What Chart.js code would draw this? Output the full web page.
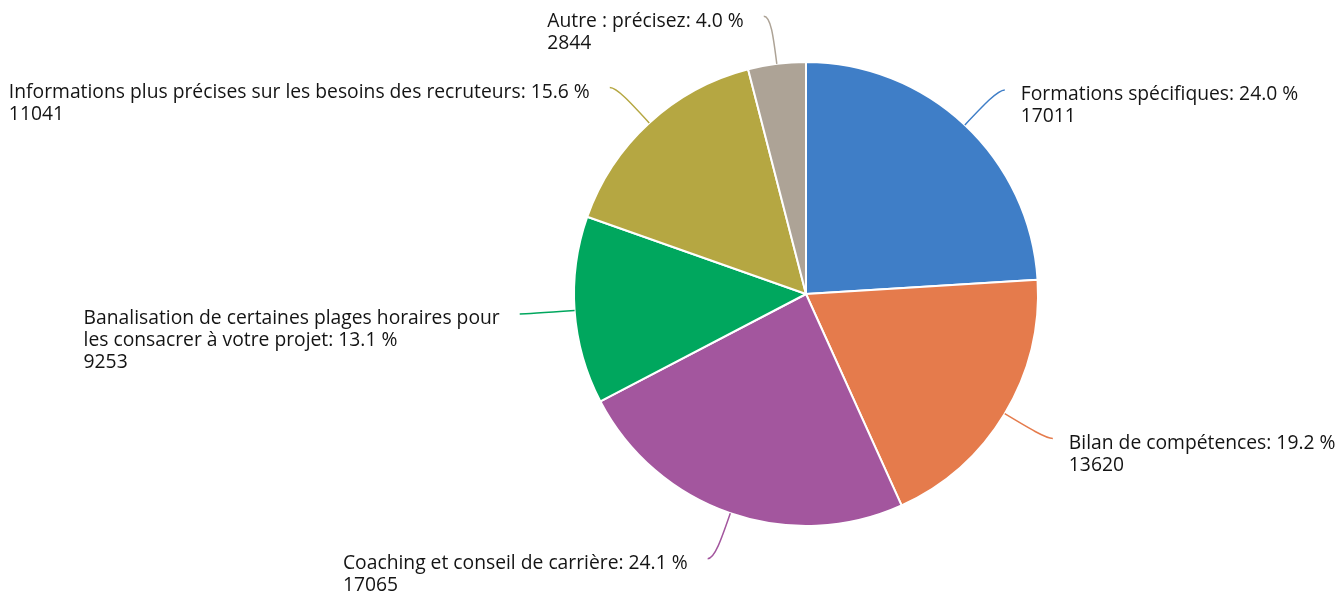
<!DOCTYPE html>
<html lang="fr">
<head>
<meta charset="utf-8">
<script src="https://cdn.jsdelivr.net/npm/chart.js@4"></script>
<style>
  html, body { margin: 0; padding: 0; background: #fff; }
  #wrap { width: 1343px; height: 593px; }
</style>
</head>
<body>
<div id="wrap"><canvas id="chart" width="1343" height="593"></canvas></div>
<script>
// categories, clockwise from 12 o'clock
const categories = [
    'Formations spécifiques',
    'Bilan de compétences',
    'Coaching et conseil de carrière',
    ['Banalisation de certaines plages horaires pour', 'les consacrer à votre projet'],
    'Informations plus précises sur les besoins des recruteurs',
    'Autre : précisez'
];
const counts = [17011, 13620, 17065, 9253, 11041, 2844];
const sliceColors = ['#3f7ec7', '#e57b4c', '#a3569e', '#00a75e', '#b5a742', '#ada396'];

const total = counts.reduce((a, b) => a + b, 0);

// leader lines + labels drawn after the arcs
const calloutPlugin = {
    id: 'callouts',
    afterDatasetsDraw(chart) {
        const ctx = chart.ctx;
        const meta = chart.getDatasetMeta(0);
        const lineH = 22;
        ctx.save();
        ctx.font = '19.3px "Open Sans", "Noto Sans", sans-serif';
        ctx.textBaseline = 'middle';
        ctx.textAlign = 'left';

        meta.data.forEach((arc, i) => {
            const mid = (arc.startAngle + arc.endAngle) / 2;
            const r = arc.outerRadius;
            const cos = Math.cos(mid), sin = Math.sin(mid);
            const side = cos >= 0 ? 1 : -1;

            // radial from the rim, then bend into a short horizontal tail
            const x0 = arc.x + cos * r, y0 = arc.y + sin * r;
            const c1x = arc.x + cos * (r + 28), c1y = arc.y + sin * (r + 28);
            const ex = arc.x + cos * (r + 48), ey = arc.y + sin * (r + 48);
            const x2 = ex + side * 7, y2 = ey;

            ctx.strokeStyle = sliceColors[i];
            ctx.lineWidth = 1.5;
            ctx.beginPath();
            ctx.moveTo(x0, y0);
            ctx.bezierCurveTo(c1x, c1y, ex, ey, x2, y2);
            ctx.stroke();

            // text lines
            const name = Array.isArray(categories[i]) ? categories[i].slice() : [categories[i]];
            const pct = (counts[i] / total * 100).toFixed(1);
            name[name.length - 1] += ': ' + pct + ' %';
            const lines = name.concat([String(counts[i])]);
            const blockW = Math.max(...lines.map(l => ctx.measureText(l).width));

            const tx = side > 0 ? x2 + 16 : x2 - 20 - blockW;
            const ty = y2 + 5;
            ctx.fillStyle = '#141414';
            lines.forEach((l, k) => ctx.fillText(l, tx, ty + k * lineH));
        });
        ctx.restore();
    }
};

new Chart(document.getElementById('chart'), {
    type: 'pie',
    data: {
        labels: categories,
        datasets: [{
            data: counts,
            backgroundColor: sliceColors,
            borderColor: '#ffffff',
            borderWidth: 2
        }]
    },
    options: {
        responsive: false,
        animation: false,
        layout: { padding: { top: 61, bottom: 66, left: 269, right: 0 } },
        plugins: {
            legend: { display: false },
            tooltip: { enabled: false }
        }
    },
    plugins: [calloutPlugin]
});
</script>
</body>
</html>
